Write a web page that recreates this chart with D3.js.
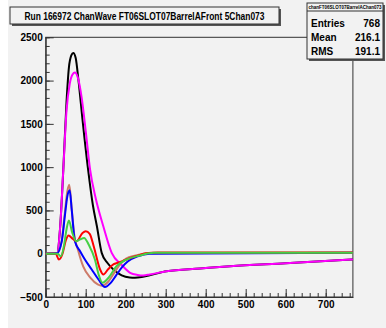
<!DOCTYPE html>
<html>
<head>
<meta charset="utf-8">
<script src="https://cdn.jsdelivr.net/npm/d3@7"></script>
<style>
  body { margin: 0; background: #fff; }
  text { font-family: "Liberation Sans", Arial, sans-serif; font-weight: bold; }
</style>
</head>
<body>
<script>
// samples (x) and ADC values (y), one pair of arrays per channel
const blackX = [0, 28, 36, 44, 52, 58, 64, 69, 75, 82, 92, 106, 118, 128, 140, 155, 170, 190, 210, 223, 240, 260, 302, 386, 461, 600, 768];
const blackY = [0, 5, 300, 971, 1750, 2150, 2290, 2320, 2260, 2000, 1550, 971, 560, 317, 10, -110, -185, -250, -275, -278, -270, -250, -202, -171, -144, -110, -67];

const magentaX = [0, 28, 36, 44, 52, 60, 67, 73, 80, 90, 100, 111, 125, 144, 165, 190, 211, 230, 244, 260, 302, 386, 461, 600, 768];
const magentaY = [0, 5, 300, 971, 1650, 1960, 2070, 2093, 2040, 1800, 1420, 971, 640, 317, 10, -130, -220, -245, -251, -240, -202, -171, -144, -110, -67];

const brownX = [0, 28, 40, 48, 54, 59, 65, 71, 81, 94, 112, 130, 140, 155, 170, 185, 200, 225, 260, 768];
const brownY = [0, 5, 150, 480, 720, 798, 520, 230, 40, -150, -280, -355, -370, -330, -230, -130, -60, -20, 5, 10];

const blueX = [0, 28, 40, 48, 54, 60, 65, 73, 86, 98, 115, 132, 148, 162, 176, 192, 205, 230, 260, 768];
const blueY = [0, 5, 140, 440, 660, 733, 510, 144, 29, -67, -182, -298, -385, -340, -250, -150, -90, -30, 0, 10];

const greenX = [0, 30, 38, 46, 52, 58, 66, 76, 86, 96, 108, 123, 133, 142, 157, 177, 202, 236, 270, 768];
const greenY = [0, 0, -30, 100, 280, 383, 250, 144, 165, 183, 100, -67, -250, -336, -278, -144, -67, -20, 10, 12];

const redX = [0, 25, 33, 42, 50, 57, 68, 77, 92, 100, 110, 120, 136, 144, 156, 170, 180, 200, 225, 250, 280, 768];
const redY = [0, 0, -67, 0, 150, 210, 170, 144, 240, 260, 230, 87, -182, -240, -180, -120, -105, -70, -30, 5, 15, 15];

const xTicks = [0, 100, 200, 300, 400, 500, 600, 700];
const yTicks = [-500, 0, 500, 1000, 1500, 2000, 2500];

const titleText = "Run 166972  ChanWave FT06SLOT07BarrelAFront 5Chan073";
const statsName = "chanFT06SLOT07BarrelAChan073";
const statsRows = [["Entries", "768"], ["Mean", "216.1"], ["RMS", "191.1"]];

const W = 386, H = 328;
const bg = "#f2f2f2";

const svg = d3.select("body").append("svg")
    .attr("width", W)
    .attr("height", H);

svg.append("rect")
    .attr("x", 8).attr("y", 0)
    .attr("width", W - 8).attr("height", H)
    .attr("fill", bg);

const x = d3.scaleLinear().domain([0, 768]).range([45.7, 352.9]);
const y = d3.scaleLinear().domain([-500, 2500]).range([297, 37.3]);

// frame
svg.append("rect")
    .attr("x", x(0)).attr("y", y(2500))
    .attr("width", x(768) - x(0)).attr("height", y(-500) - y(2500))
    .attr("fill", "none")
    .attr("stroke", "#333")
    .attr("stroke-width", 1);

// y axis: ticks pointing into the frame
const yAxis = d3.axisLeft(y).tickValues(yTicks).tickFormat(d3.format("d"))
    .tickSizeInner(-8).tickSizeOuter(0).tickPadding(3);
const gy = svg.append("g").attr("transform", `translate(${x(0)},0)`).call(yAxis);
gy.selectAll(".tick text").attr("font-size", 10).attr("fill", "#000");
gy.select(".domain").attr("stroke", "#333");
gy.selectAll(".tick line").attr("stroke", "#333");

const yMinor = d3.axisLeft(y).tickValues(d3.range(-500, 2501, 100)).tickSize(-4).tickFormat("");
const gym = svg.append("g").attr("transform", `translate(${x(0)},0)`).call(yMinor);
gym.select(".domain").remove();
gym.selectAll(".tick line").attr("stroke", "#333");

// x axis
const xAxis = d3.axisBottom(x).tickValues(xTicks).tickFormat(d3.format("d"))
    .tickSizeInner(-8).tickSizeOuter(0).tickPadding(4);
const gx = svg.append("g").attr("transform", `translate(0,${y(-500)})`).call(xAxis);
gx.selectAll(".tick text").attr("font-size", 10).attr("fill", "#000");
gx.select(".domain").attr("stroke", "#333");
gx.selectAll(".tick line").attr("stroke", "#333");

const xMinor = d3.axisBottom(x).tickValues(d3.range(0, 761, 20)).tickSize(-4).tickFormat("");
const gxm = svg.append("g").attr("transform", `translate(0,${y(-500)})`).call(xMinor);
gxm.select(".domain").remove();
gxm.selectAll(".tick line").attr("stroke", "#333");

// curves
const line = d3.line()
    .x(d => x(d[0]))
    .y(d => y(d[1]))
    .curve(d3.curveMonotoneX);

const series = [
    { xs: blackX, ys: blackY, color: "#000000" },
    { xs: magentaX, ys: magentaY, color: "#ff00ff" },
    { xs: brownX, ys: brownY, color: "#cd7b6a" },
    { xs: blueX, ys: blueY, color: "#0000ff" },
    { xs: redX, ys: redY, color: "#ff0000" },
    { xs: greenX, ys: greenY, color: "#44d044" }
];

svg.append("g").selectAll("path")
    .data(series)
    .join("path")
    .attr("d", s => line(s.xs.map((v, i) => [v, s.ys[i]])))
    .attr("fill", "none")
    .attr("stroke", s => s.color)
    .attr("stroke-width", 2);

// title box
const tb = { x: 10, y: 7, w: 269, h: 17 };
svg.append("rect")
    .attr("x", tb.x + 2).attr("y", tb.y + 2)
    .attr("width", tb.w).attr("height", tb.h)
    .attr("fill", "#555");
svg.append("rect")
    .attr("x", tb.x).attr("y", tb.y)
    .attr("width", tb.w).attr("height", tb.h)
    .attr("fill", bg).attr("stroke", "#333");
svg.append("text")
    .attr("x", tb.x + tb.w / 2).attr("y", tb.y + 12.5)
    .attr("text-anchor", "middle")
    .attr("font-size", 11)
    .attr("textLength", 240)
    .attr("lengthAdjust", "spacingAndGlyphs")
    .text(titleText);

// stats box
const sb = { x: 307, y: 3, w: 76, h: 56 };
svg.append("rect")
    .attr("x", sb.x + 2).attr("y", sb.y + 2)
    .attr("width", sb.w).attr("height", sb.h)
    .attr("fill", "#555");
svg.append("rect")
    .attr("x", sb.x).attr("y", sb.y)
    .attr("width", sb.w).attr("height", sb.h)
    .attr("fill", bg).attr("stroke", "#333");
svg.append("line")
    .attr("x1", sb.x).attr("x2", sb.x + sb.w)
    .attr("y1", sb.y + 8).attr("y2", sb.y + 8)
    .attr("stroke", "#333");
svg.append("text")
    .attr("x", sb.x + sb.w / 2).attr("y", sb.y + 6)
    .attr("text-anchor", "middle")
    .attr("font-size", 4.5)
    .attr("font-weight", "normal")
    .text(statsName);

statsRows.forEach((r, i) => {
    const ty = sb.y + 24 + i * 14;
    svg.append("text")
        .attr("x", sb.x + 4).attr("y", ty)
        .attr("font-size", 10)
        .text(r[0]);
    svg.append("text")
        .attr("x", sb.x + sb.w - 3).attr("y", ty)
        .attr("text-anchor", "end")
        .attr("font-size", 10)
        .text(r[1]);
});
</script>
</body>
</html>
